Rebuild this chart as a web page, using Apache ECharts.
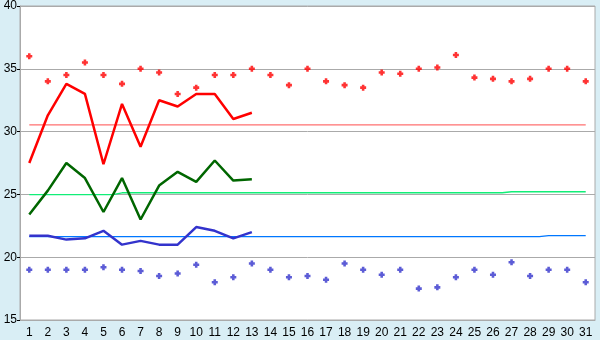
<!DOCTYPE html>
<html>
<head>
<meta charset="utf-8">
<script src="https://cdn.jsdelivr.net/npm/echarts@6/dist/echarts.min.js"></script>
<style>
html,body{margin:0;padding:0;background:#d9eef5;}
#c{width:600px;height:340px;}
</style>
</head>
<body>
<div id="c"></div>
<script>
var days = [];
for (var d = 1; d <= 31; d++) days.push(String(d));
var yTicks = [15, 20, 25, 30, 35, 40];

var maxPoints = [36.0,34.0,34.5,35.5,34.5,33.8,35.0,34.7,33.0,33.5,34.5,34.5,35.0,34.5,33.7,35.0,34.0,33.7,33.5,34.7,34.6,35.0,35.1,36.1,34.3,34.2,34.0,34.2,35.0,35.0,34.0];
var minPoints = [19.0,19.0,19.0,19.0,19.2,19.0,18.9,18.5,18.7,19.4,18.0,18.4,19.5,19.0,18.4,18.5,18.2,19.5,19.0,18.6,19.0,17.5,17.6,18.4,19.0,18.6,19.6,18.5,19.0,19.0,18.0];

var maxLine = [27.5,31.3,33.8,33.0,27.4,32.2,28.8,32.5,32.0,33.0,33.0,31.0,31.5];
var meanLine = [23.4,25.3,27.5,26.3,23.6,26.3,23.0,25.7,26.8,26.0,27.7,26.1,26.2];
var minLine = [21.7,21.7,21.4,21.5,22.1,21.0,21.3,21.0,21.0,22.4,22.1,21.5,22.0];

var maxAvg = [30.53,30.53,30.53,30.53,30.53,30.53,30.53,30.53,30.53,30.53,30.53,30.53,30.53,30.53,30.53,30.53,30.53,30.53,30.53,30.53,30.53,30.53,30.53,30.53,30.53,30.53,30.53,30.53,30.53,30.53,30.53];
var meanAvg = [24.98,24.98,24.98,24.98,24.98,25.13,25.13,25.13,25.13,25.13,25.13,25.13,25.13,25.13,25.13,25.13,25.13,25.13,25.13,25.13,25.13,25.13,25.13,25.13,25.13,25.13,25.21,25.21,25.21,25.21,25.21];
var minAvg = [21.64,21.64,21.64,21.64,21.64,21.64,21.64,21.64,21.64,21.64,21.64,21.64,21.64,21.64,21.64,21.64,21.64,21.64,21.64,21.64,21.64,21.64,21.64,21.64,21.64,21.64,21.64,21.64,21.72,21.72,21.72];

var plus = 'path://M2,0H5V2H7V5H5V7H2V5H0V2H2Z';
var font = '"Liberation Sans", Arial, sans-serif';

var chart = echarts.init(document.getElementById('c'), null, {renderer: 'canvas'});
chart.setOption({
  animation: false,
  backgroundColor: '#d9eef5',
  grid: {left: 20, right: 5, top: 5, bottom: 20, show: true, backgroundColor: '#ffffff', borderColor: '#aaaaaa', borderWidth: 1},
  xAxis: {
    type: 'category', data: days, boundaryGap: true,
    axisLine: {lineStyle: {color: '#aaaaaa'}},
    axisTick: {alignWithLabel: true, length: 5, lineStyle: {color: '#000'}},
    axisLabel: {color: '#000', fontSize: 12, fontFamily: font, margin: 7, interval: 0},
    splitLine: {show: false}
  },
  yAxis: {
    type: 'value', min: yTicks[0], max: yTicks[yTicks.length - 1], interval: 5,
    axisLine: {show: true, lineStyle: {color: '#aaaaaa'}},
    axisTick: {show: true, length: 3, lineStyle: {color: '#000'}},
    axisLabel: {color: '#000', fontSize: 12, fontFamily: font, margin: 3},
    splitLine: {lineStyle: {color: '#aaaaaa', width: 1}}
  },
  series: [
    {type: 'line', data: maxAvg, step: 'middle', showSymbol: false, lineStyle: {color: '#ff7070', width: 1.3}, z: 2},
    {type: 'line', data: meanAvg, step: 'middle', showSymbol: false, lineStyle: {color: '#11ee77', width: 1.3}, z: 2},
    {type: 'line', data: minAvg, step: 'middle', showSymbol: false, lineStyle: {color: '#0077ff', width: 1.3}, z: 2},
    {type: 'line', data: maxLine, showSymbol: false, lineStyle: {color: '#ff0000', width: 2.5}, z: 3},
    {type: 'line', data: meanLine, showSymbol: false, lineStyle: {color: '#006600', width: 2.5}, z: 3},
    {type: 'line', data: minLine, showSymbol: false, lineStyle: {color: '#3333cc', width: 2.5}, z: 3},
    {type: 'scatter', data: maxPoints, symbol: plus, symbolSize: 6, itemStyle: {color: '#ff0000'}, z: 4},
    {type: 'scatter', data: minPoints, symbol: plus, symbolSize: 6, itemStyle: {color: '#3333cc'}, z: 4}
  ]
});
</script>
</body>
</html>
